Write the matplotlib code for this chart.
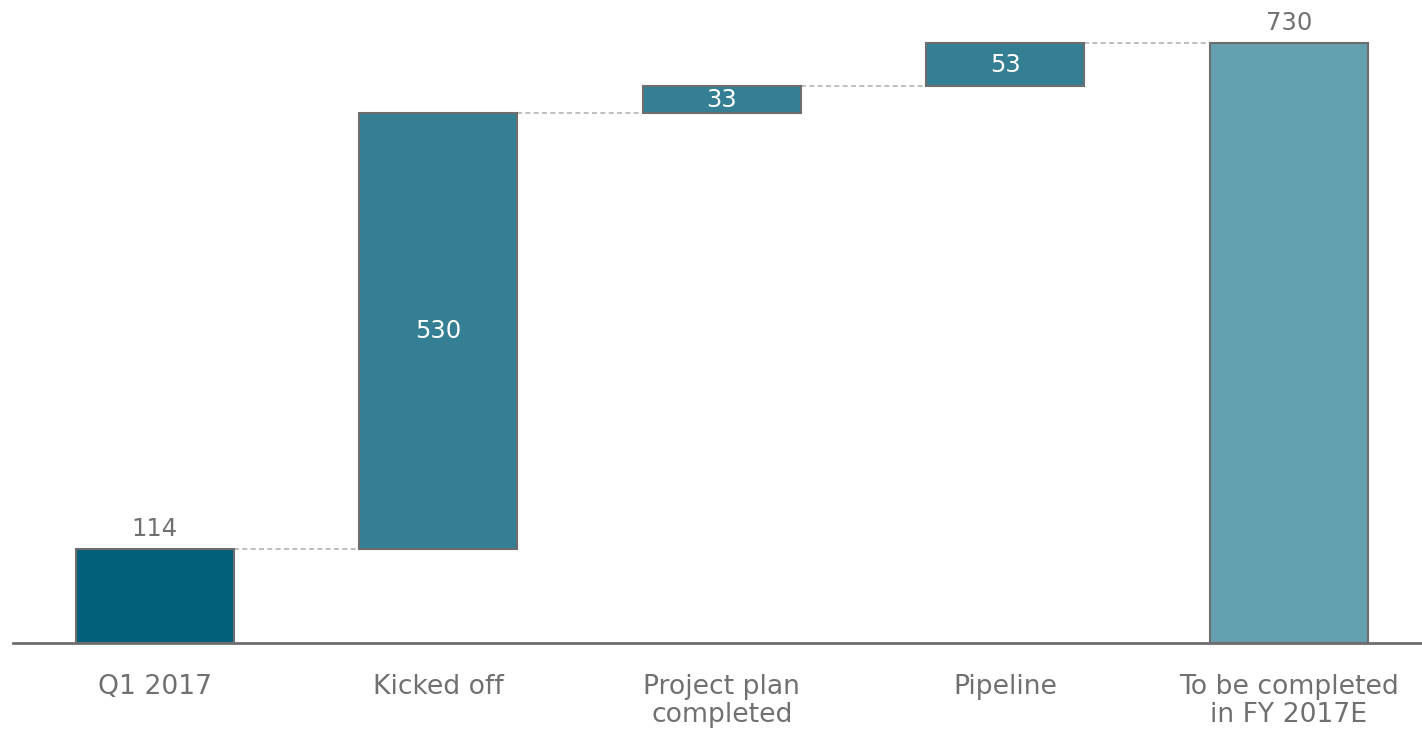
import os
import numpy as np
import matplotlib
import matplotlib.pyplot as plt
from matplotlib import font_manager

# use the Verdana-like DejaVu Sans shipped with matplotlib if it is there
ttf = os.path.join(matplotlib.get_data_path(), 'fonts', 'ttf', 'DejaVuSans.ttf')
if os.path.exists(ttf):
    font_manager.fontManager.addfont(ttf)
    fam = font_manager.FontProperties(fname=ttf).get_name()
else:
    fam = 'DejaVu Sans'
plt.rcParams['font.family'] = [fam]

# Waterfall data
categories = ['Q1 2017', 'Kicked off', 'Project plan\ncompleted', 'Pipeline', 'To be completed\nin FY 2017E']
changes = [114, 530, 33, 53]
total = 730

bar_colors = ['#02607a', '#347f93', '#347f93', '#347f93', '#65a0b0']
edge_color = '#6d6d6d'
text_gray = '#707070'

# bottoms and heights of each bar
bottoms = [0]
for v in changes[:-1]:
    bottoms.append(bottoms[-1] + v)
bottoms = bottoms + [0]
heights = changes + [total]
tops = [b + h for b, h in zip(bottoms, heights)]

x = np.arange(len(categories))
width = 0.557

fig = plt.figure(figsize=(14.22, 7.33), dpi=100)
ax = fig.add_axes([13 / 1422, 1 - 643 / 733, 1 - 13 / 1422, 643 / 733])

ax.bar(x, heights, bottom=bottoms, width=width, color=bar_colors,
       edgecolor=edge_color, linewidth=1.5, zorder=3)

# dashed connectors between bars
for i in range(len(x) - 1):
    ax.plot([x[i] + width / 2, x[i + 1] - width / 2], [tops[i], tops[i]],
            ls=(0, (3, 2)), color='#b4b4b4', lw=1.2, zorder=2)

# value labels
for i in range(len(x)):
    if i == 0 or i == len(x) - 1:
        ax.text(x[i], tops[i] + 10, str(heights[i]), ha='center', va='bottom',
                fontsize=17.5, color=text_gray)
    else:
        ax.text(x[i], bottoms[i] + heights[i] / 2, str(heights[i]), ha='center',
                va='center', fontsize=17.5, color='white', zorder=4)

ax.set_xlim(-0.5, 4.47)
ax.set_ylim(0, 782)
ax.set_xticks(x)
ax.set_xticklabels(categories, fontsize=19.2, color=text_gray, linespacing=1.12)
ax.tick_params(axis='x', length=0, pad=22)
ax.set_yticks([])
for s in ['top', 'right', 'left']:
    ax.spines[s].set_visible(False)
ax.spines['bottom'].set_color(edge_color)
ax.spines['bottom'].set_linewidth(2)
ax.patch.set_alpha(0)

fig.savefig('out.png', dpi=100)
